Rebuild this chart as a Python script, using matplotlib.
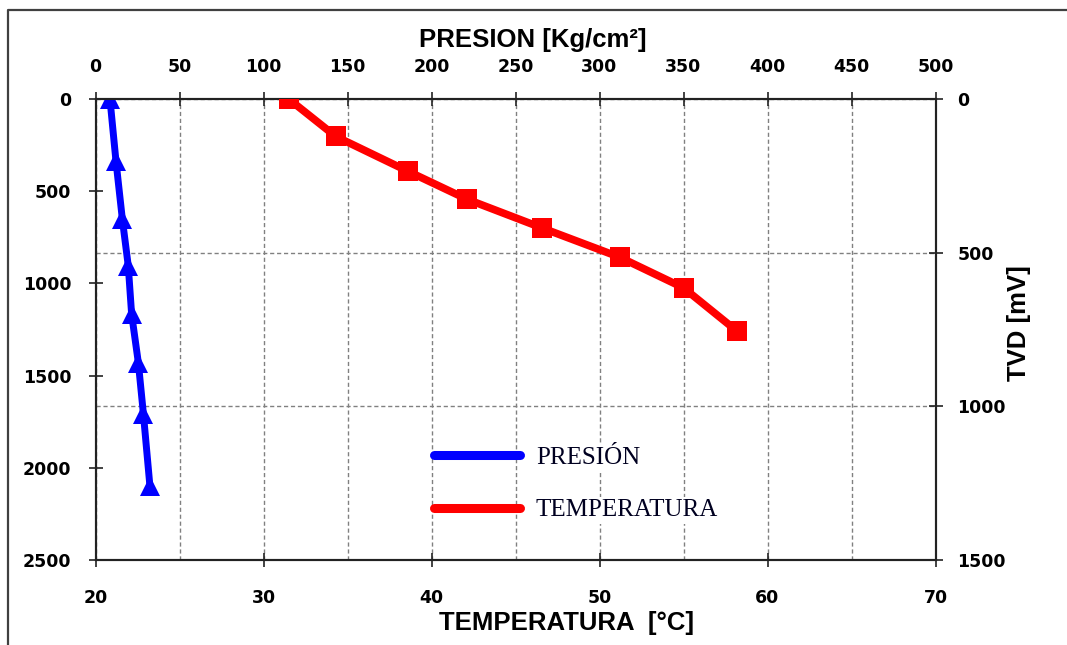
import matplotlib
matplotlib.use('Agg')
import matplotlib.pyplot as plt
from matplotlib.lines import Line2D

# profundidad de las mediciones (misma para ambas curvas)
profundidad = [0, 203, 392, 543, 700, 858, 1024, 1260]
presion = [8.6, 12.2, 16.0, 19.5, 21.5, 25.5, 28.5, 32.4]          # Kg/cm2
temperatura = [31.5, 34.3, 38.6, 42.1, 46.6, 51.2, 55.0, 58.2]      # °C

temp_ticks = [20, 30, 40, 50, 60, 70]
pres_ticks = [0, 50, 100, 150, 200, 250, 300, 350, 400, 450, 500]
prof_ticks = [0, 500, 1000, 1500, 2000, 2500]
tvd_ticks = [0, 500, 1000, 1500]

W, H = 1067, 645
fig = plt.figure(figsize=(W / 100, H / 100), dpi=100)
pos = [95.5 / W, 85 / H, 840 / W, 461 / H]

tick_font = {'family': 'DejaVu Sans', 'weight': 'bold', 'size': 12.5}
dark = '#222222'

# eje de presion (arriba) + TVD (derecha), lleva la grilla
axP = fig.add_axes(pos)
axP.set_xlim(0, 500)
axP.set_ylim(1500, 0)
axP.xaxis.tick_top()
axP.yaxis.tick_right()
axP.set_xticks(pres_ticks)
axP.set_yticks(tvd_ticks)
axP.set_xticklabels([str(v) for v in pres_ticks], fontdict=tick_font)
axP.set_yticklabels([str(v) for v in tvd_ticks], fontdict=tick_font)
axP.tick_params(axis='x', direction='inout', length=10, width=1.2, pad=11.5, color=dark)
axP.tick_params(axis='y', direction='inout', length=10, width=1.2, pad=10.8, color=dark)
axP.grid(True, color='#808080', lw=1.0, linestyle=(0, (3, 2)))
axP.set_axisbelow(True)
for s in axP.spines.values():
    s.set_linewidth(1.5)
    s.set_color(dark)

axP.plot(presion, profundidad, color='#0000FF', lw=5, marker='^', ms=14.5,
         mew=0, solid_joinstyle='round', zorder=3)

# eje de temperatura (abajo) + profundidad (izquierda)
axT = fig.add_axes(pos, facecolor='none')
axT.set_xlim(20, 70)
axT.set_ylim(2500, 0)
axT.set_xticks(temp_ticks)
axT.set_yticks(prof_ticks)
axT.set_xticklabels([str(v) for v in temp_ticks], fontdict=tick_font)
axT.set_yticklabels([str(v) for v in prof_ticks], fontdict=tick_font)
axT.tick_params(axis='x', direction='inout', length=10, width=1.2, pad=15.9, color=dark)
axT.tick_params(axis='y', direction='inout', length=10, width=1.2, pad=12.3, color=dark)
for s in axT.spines.values():
    s.set_linewidth(1.5)
    s.set_color(dark)

axT.plot(temperatura, profundidad, color='#FF0000', lw=5.5, marker='s', ms=15,
         mew=0, solid_joinstyle='round', zorder=3)

# leyenda
handles = [Line2D([0], [0], color='#0000FF', lw=6.5, solid_capstyle='round'),
           Line2D([0], [0], color='#FF0000', lw=6.5, solid_capstyle='round')]
leg = axT.legend(handles, ['PRESIÓN', 'TEMPERATURA'], frameon=False,
                 loc='center left', bbox_to_anchor=(421 / W, 1 - 484 / H),
                 bbox_transform=fig.transFigure, borderpad=0,
                 handlelength=3.45, handletextpad=0.65, labelspacing=1.2,
                 prop={'family': 'Liberation Serif', 'size': 18})
leg.set_zorder(5)
for t in leg.get_texts():
    t.set_color('#000020')
    t.set_bbox(dict(facecolor='white', edgecolor='none', pad=2))

# titulos de los ejes
title_font = {'family': 'Liberation Sans', 'weight': 'bold', 'size': 18.5}
fig.text(533 / W, 1 - 40 / H, 'PRESION [Kg/cm²]', ha='center', va='center', **title_font)
fig.text(567 / W, 1 - 623 / H, 'TEMPERATURA  [°C]', ha='center', va='center', **title_font)
fig.text(1019 / W, 1 - 323 / H, 'TVD [mV]', ha='center', va='center', rotation=90, **title_font)

# marco exterior
fig.add_artist(Line2D([7.5 / W, 7.5 / W, 1.0], [0.0, 1 - 9.5 / H, 1 - 9.5 / H],
                      color='#404040', lw=1.6, transform=fig.transFigure))

fig.savefig('out.png', dpi=100)
